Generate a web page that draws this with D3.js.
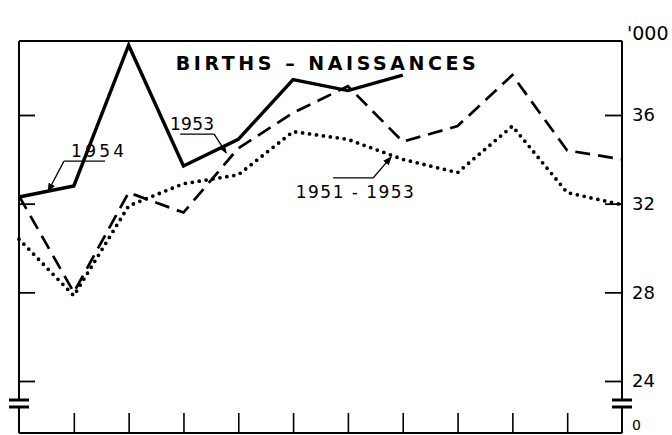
<!DOCTYPE html>
<html><head><meta charset="utf-8">
<script src="https://cdn.jsdelivr.net/npm/d3@7"></script>
<style>
html,body{margin:0;padding:0;background:#fff;}
svg{display:block;}
text{font-family:"DejaVu Sans",sans-serif;fill:#000;}
</style></head>
<body>
<script>
// ---- data ----
const months = ["Jan","Feb","Mar","Apr","May","Jun","Jul","Aug","Sep","Oct","Nov","Dec"];
const births1954 = [32.3, 32.8, 39.15, 33.7, 34.9, 37.6, 37.1, 37.8];
const births1953 = [32.35, 28.0, 32.5, 31.6, 34.5, 36.1, 37.3, 34.8, 35.5, 37.8, 34.4, 34.0];
const births5153 = [30.4, 27.85, 31.9, 32.9, 33.3, 35.25, 34.9, 34.0, 33.4, 35.5, 32.5, 31.95];
const yTicks = [24, 28, 32, 36];
const yTickLabels = ["24", "28", "32", "36"];
const title = "BIRTHS – NAISSANCES";
const unitLabel = "'000";
const zeroLabel = "0";

(function () {
const W = 672, H = 435;
const pL = 19, pR = 622, pT = 41, pB = 433;
const svg = d3.select("body").append("svg").attr("width", W).attr("height", H);

const x = d3.scaleLinear().domain([0, months.length - 1]).range([pL, pR]);
const y = d3.scaleLinear().domain([24, 36]).range([381, 115]);

// frame: top + bottom
svg.append("line").attr("x1", pL).attr("x2", pR).attr("y1", pT).attr("y2", pT)
  .attr("stroke", "#000").attr("stroke-width", 2);
svg.append("line").attr("x1", pL).attr("x2", pR).attr("y1", pB).attr("y2", pB)
  .attr("stroke", "#000").attr("stroke-width", 2.2);

// side axes with break
const brkTop = 400, brkBot = 407;
[pL, pR].forEach(ax => {
  svg.append("line").attr("x1", ax).attr("x2", ax).attr("y1", pT).attr("y2", brkTop)
    .attr("stroke", "#000").attr("stroke-width", 2);
  svg.append("line").attr("x1", ax).attr("x2", ax).attr("y1", brkBot).attr("y2", pB)
    .attr("stroke", "#000").attr("stroke-width", 2);
  [brkTop, brkBot].forEach(by => {
    svg.append("line").attr("x1", ax - 10).attr("x2", ax + 10).attr("y1", by).attr("y2", by)
      .attr("stroke", "#000").attr("stroke-width", 3);
  });
});

// bottom ticks (inside)
const xAxis = d3.axisBottom(x).tickValues(d3.range(1, months.length - 1))
  .tickSizeInner(-20).tickSizeOuter(0).tickFormat("");
const gx = svg.append("g").attr("transform", `translate(0,${pB})`).call(xAxis);
gx.select(".domain").remove();
gx.selectAll(".tick line").attr("stroke", "#000").attr("stroke-width", 1.6);

// right axis ticks and labels
const yAxisR = d3.axisRight(y).tickValues(yTicks).tickSizeInner(-17).tickSizeOuter(0)
  .tickPadding(10).tickFormat((d, i) => yTickLabels[i]);
const gr = svg.append("g").attr("transform", `translate(${pR},0)`).call(yAxisR);
gr.select(".domain").remove();
gr.selectAll(".tick line").attr("stroke", "#000").attr("stroke-width", 1.8);
gr.selectAll(".tick text").attr("font-size", 18).attr("fill", "#000")
  .attr("font-family", "DejaVu Sans, sans-serif");

// left axis ticks (no labels)
const yAxisL = d3.axisLeft(y).tickValues(yTicks).tickSizeInner(-16).tickSizeOuter(0).tickFormat("");
const gl = svg.append("g").attr("transform", `translate(${pL},0)`).call(yAxisL);
gl.select(".domain").remove();
gl.selectAll(".tick line").attr("stroke", "#000").attr("stroke-width", 1.8);

// unit labels
svg.append("text").attr("x", pR + 5).attr("y", 40).attr("font-size", 19).text(unitLabel);
svg.append("text").attr("x", pR + 10).attr("y", 430).attr("font-size", 14).text(zeroLabel);

// lines
const line = d3.line().x((d, i) => x(i)).y(d => y(d));
svg.append("path").datum(births5153).attr("d", line).attr("fill", "none")
  .attr("stroke", "#000").attr("stroke-width", 3.8).attr("stroke-linecap", "round")
  .attr("stroke-dasharray", "0,7");
svg.append("path").datum(births1953).attr("d", line).attr("fill", "none")
  .attr("stroke", "#000").attr("stroke-width", 2.7).attr("stroke-dasharray", "15,8");
svg.append("path").datum(births1954).attr("d", line).attr("fill", "none")
  .attr("stroke", "#000").attr("stroke-width", 3.4).attr("stroke-linejoin", "miter");

// title
svg.append("text").attr("x", x(2.86)).attr("y", y(38.03)).attr("font-size", 19)
  .attr("font-weight", "bold").attr("textLength", 300).attr("lengthAdjust", "spacing")
  .text(title);

// annotations (data coordinates)
svg.append("defs").append("marker").attr("id", "arr").attr("viewBox", "0 0 10 10")
  .attr("refX", 9).attr("refY", 5).attr("markerWidth", 9).attr("markerHeight", 9)
  .attr("markerUnits", "userSpaceOnUse").attr("orient", "auto")
  .append("path").attr("d", "M0,1 L10,5 L0,9 Z").attr("fill", "#000");

const annotations = [
  {label: "1954", tx: 0.95, tv: 34.1, len: 53, ul: [0.82, 1.57, 33.92], tip: [0.53, 32.55], from: 0},
  {label: "1953", tx: 2.755, tv: 35.32, len: 44, ul: [2.94, 3.56, 35.14], tip: [3.78, 34.29], from: 1},
  {label: "1951 - 1953", tx: 5.05, tv: 32.26, len: 118, ul: [5.73, 6.46, 33.16], tip: [6.79, 34.11], from: 1}
];
annotations.forEach(a => {
  svg.append("text").attr("x", x(a.tx)).attr("y", y(a.tv)).attr("font-size", 17)
    .attr("textLength", a.len).attr("lengthAdjust", "spacing").text(a.label);
  svg.append("line").attr("x1", x(a.ul[0])).attr("x2", x(a.ul[1]))
    .attr("y1", y(a.ul[2])).attr("y2", y(a.ul[2])).attr("stroke", "#000").attr("stroke-width", 1.3);
  const sx = x(a.ul[a.from]);
  svg.append("line").attr("x1", sx).attr("y1", y(a.ul[2]))
    .attr("x2", x(a.tip[0])).attr("y2", y(a.tip[1]))
    .attr("stroke", "#000").attr("stroke-width", 1.3).attr("marker-end", "url(#arr)");
});
})();
</script>
</body></html>
